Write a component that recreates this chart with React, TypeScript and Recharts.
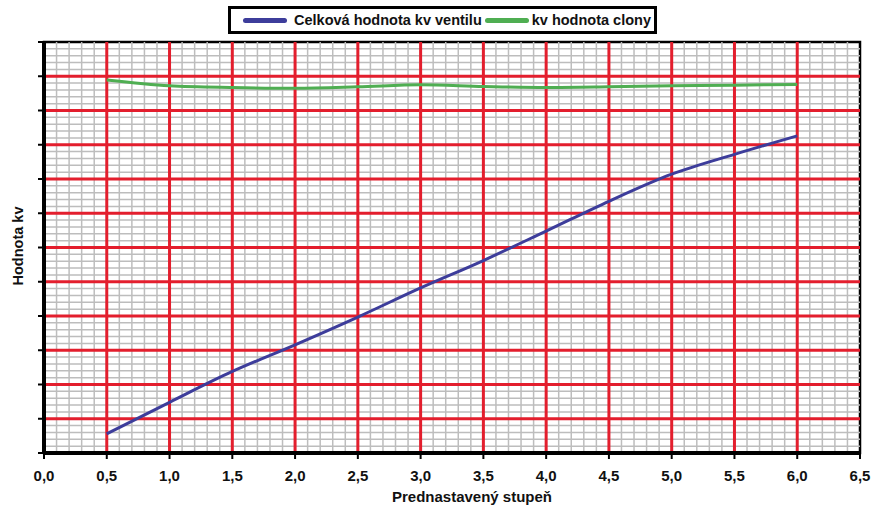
import { LineChart, Line, XAxis, YAxis, ReferenceLine, ReferenceArea } from 'recharts'

const steps = [0.5, 1.0, 1.5, 2.0, 2.5, 3.0, 3.5, 4.0, 4.5, 5.0, 5.5, 6.0]
const celkova = [0.56, 1.48, 2.38, 3.16, 3.97, 4.82, 5.62, 6.48, 7.35, 8.14, 8.72, 9.26]
const clona = [10.89, 10.72, 10.67, 10.65, 10.69, 10.75, 10.7, 10.67, 10.69, 10.72, 10.74, 10.76]

const xTicks = [0, 0.5, 1, 1.5, 2, 2.5, 3, 3.5, 4, 4.5, 5, 5.5, 6, 6.5]
const yTicks = [0, 1, 2, 3, 4, 5, 6, 7, 8, 9, 10, 11, 12]

const seriesNames = ['Celková hodnota kv ventilu', 'kv hodnota clony']
const seriesColors = ['#3d3d9b', '#4fae52']

const data = steps.map((s, i) => ({ step: s, celkova: celkova[i], clona: clona[i] }))

// minor grid: 5 subdivisions between the major lines
const minorX: number[] = []
for (let i = 1; i < 65; i++) if (i % 5 !== 0) minorX.push(i / 10)
const minorY: number[] = []
for (let i = 1; i < 60; i++) if (i % 5 !== 0) minorY.push(i / 5)

const font = '"Liberation Sans", Arial, sans-serif'

function LegendBox() {
  return (
    <div
      style={{
        position: 'absolute',
        left: 228,
        top: 6,
        width: 423,
        height: 22,
        border: '3px solid #000',
        background: '#fff',
        display: 'flex',
        alignItems: 'center',
        fontFamily: font,
        fontWeight: 'bold',
        fontSize: 14.5,
        color: '#111',
        whiteSpace: 'nowrap',
      }}
    >
      {seriesNames.map((name, i) => (
        <div key={name} style={{ display: 'flex', alignItems: 'center', marginLeft: i === 0 ? 12 : 0 }}>
          <span
            style={{
              display: 'inline-block',
              width: 44,
              height: 5,
              borderRadius: 3,
              background: seriesColors[i],
              marginLeft: i === 0 ? 0 : 3,
              marginRight: i === 0 ? 7 : 3,
            }}
          />
          <span>{name}</span>
        </div>
      ))}
    </div>
  )
}

export default function App() {
  return (
    <div style={{ position: 'absolute', left: 0, top: 0, width: 871, height: 506, background: '#fff' }}>
      <LineChart width={871} height={506} data={data} margin={{ top: 42, right: 11, left: 0, bottom: 0 }}>
        {minorX.map((v) => (
          <ReferenceLine key={'mx' + v} x={v} stroke="#bdbdbd" strokeWidth={1.5} />
        ))}
        {minorY.map((v) => (
          <ReferenceLine key={'my' + v} y={v} stroke="#bdbdbd" strokeWidth={1.5} />
        ))}
        {xTicks.slice(1, -1).map((v) => (
          <ReferenceLine key={'Mx' + v} x={v} stroke="#e31e2d" strokeWidth={3} />
        ))}
        {yTicks.slice(1, -1).map((v) => (
          <ReferenceLine key={'My' + v} y={v} stroke="#e31e2d" strokeWidth={3} />
        ))}
        <ReferenceArea x1={0} x2={6.5} y1={0} y2={12} fill="none" stroke="#000" strokeWidth={2.5} />
        <XAxis
          dataKey="step"
          type="number"
          domain={[0, 6.5]}
          ticks={xTicks}
          height={53}
          interval={0}
          tickFormatter={(v: number) => v.toFixed(1).replace('.', ',')}
          axisLine={{ stroke: '#000', strokeWidth: 4 }}
          tickLine={{ stroke: '#000', strokeWidth: 2 }}
          tickSize={6}
          tickMargin={11}
          tick={{ fill: '#111', fontFamily: font, fontWeight: 'bold', fontSize: 15 }}
          label={{
            content: () => (
              <text x={472} y={502} textAnchor="middle" fill="#111" fontFamily={font} fontWeight="bold" fontSize={15}>
                Prednastavený stupeň
              </text>
            ),
          }}
        />
        <YAxis
          type="number"
          domain={[0, 12]}
          ticks={yTicks}
          width={44}
          interval={0}
          axisLine={{ stroke: '#000', strokeWidth: 4 }}
          tickLine={{ stroke: '#000', strokeWidth: 2 }}
          tickSize={6}
          tick={() => <g />}
          label={{
            content: () => (
              <text
                transform="translate(23,246) rotate(-90)"
                textAnchor="middle"
                fill="#111"
                fontFamily={font}
                fontWeight="bold"
                fontSize={14.5}
              >
                Hodnota kv
              </text>
            ),
          }}
        />
        <Line
          type="monotone"
          dataKey="celkova"
          stroke={seriesColors[0]}
          strokeWidth={3}
          dot={false}
          isAnimationActive={false}
        />
        <Line
          type="monotone"
          dataKey="clona"
          stroke={seriesColors[1]}
          strokeWidth={3}
          dot={false}
          isAnimationActive={false}
        />
      </LineChart>
      <LegendBox />
    </div>
  )
}
